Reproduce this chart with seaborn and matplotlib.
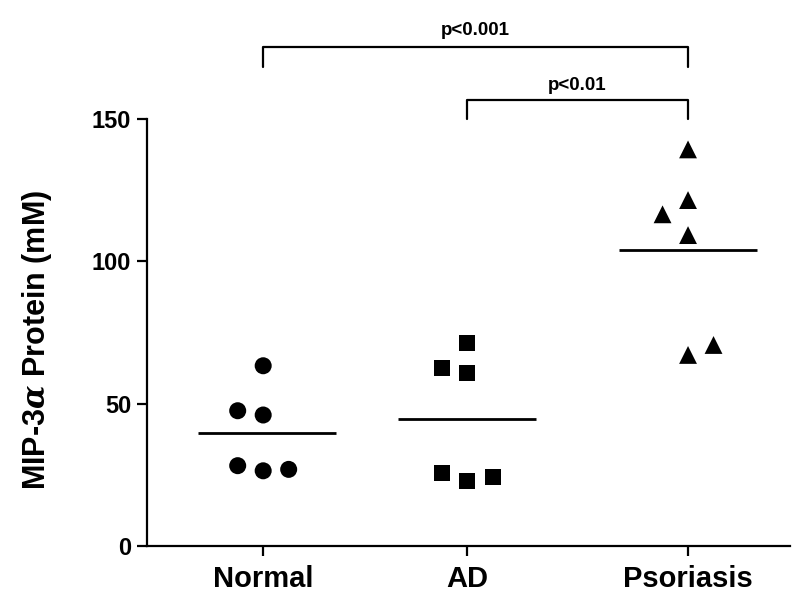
import numpy as np
import pandas as pd
import matplotlib
matplotlib.use("Agg")
import matplotlib.pyplot as plt
import seaborn as sns

# values
groups = ["Normal", "AD", "Psoriasis"]
normal = [63.3, 47.5, 46.0, 28.2, 26.4, 26.9]
ad = [71.2, 62.4, 60.9, 25.5, 22.9, 24.1]
psoriasis = [139.3, 121.5, 116.5, 109.2, 70.6, 67.1]

# horizontal scatter offsets (graphpad style) and group centres
offsets = {"Normal": [0, -1, 0, -1, 0, 1],
           "AD": [0, -1, 0, -1, 0, 1],
           "Psoriasis": [0, 0, -1, 0, 1, 0]}
centres = {"Normal": 0.0, "AD": 0.96, "Psoriasis": 2.0}
step = 0.12

rows = []
for g, vals in zip(groups, [normal, ad, psoriasis]):
    for v, o in zip(vals, offsets[g]):
        rows.append({"group": g, "value": v, "x": centres[g] + o * step})
df = pd.DataFrame(rows)

sns.set_style("ticks")
plt.rcParams["font.family"] = ["Liberation Sans", "DejaVu Sans"]
plt.rcParams["font.weight"] = "bold"
plt.rcParams["text.color"] = "black"
plt.rcParams["axes.labelcolor"] = "black"
plt.rcParams["xtick.color"] = "black"
plt.rcParams["ytick.color"] = "black"
plt.rcParams["axes.edgecolor"] = "black"
plt.rcParams["mathtext.fontset"] = "custom"
plt.rcParams["mathtext.it"] = "DejaVu Serif:italic"

fig = plt.figure(figsize=(8, 6.1), dpi=100)
ax = fig.add_axes([0.184, 0.105, 0.8035, 0.70])

sns.scatterplot(data=df, x="x", y="value", style="group", size="group",
                markers={"Normal": "o", "AD": "s", "Psoriasis": "^"},
                sizes={"Normal": 150, "AD": 135, "Psoriasis": 165},
                color="black", edgecolor="black", linewidth=0,
                legend=False, ax=ax, clip_on=False, zorder=3)

for g, vals in zip(groups, [normal, ad, psoriasis]):
    c = centres[g] + (0.02 if g == "Normal" else 0)
    ax.hlines(np.mean(vals), c - 0.325, c + 0.325, color="black", lw=2)

ax.set_xlim(-0.546, 2.48)
ax.set_ylim(0, 150)
ax.set_yticks([0, 50, 100, 150])
ax.set_xticks([centres[g] for g in groups])
ax.set_xticklabels(groups, fontsize=21, fontweight="bold")
ax.tick_params(axis="y", labelsize=17, width=1.6, length=7.5, pad=4)
ax.tick_params(axis="x", width=1.6, length=7.5, pad=6)
for lab in ax.get_yticklabels():
    lab.set_fontweight("bold")
ax.set_xlabel("")
ax.set_ylabel(r"MIP-3$\alpha$ Protein (mM)", fontsize=22, fontweight="bold")
ax.yaxis.set_label_coords(-0.145, 0.482)
sns.despine(ax=ax)
for sp in ["left", "bottom"]:
    ax.spines[sp].set_linewidth(1.6)

# significance brackets
def bracket(x1, x2, y, drop, text, ty):
    ax.plot([x1, x1, x2, x2], [y - drop, y, y, y - drop], color="black",
            lw=1.6, clip_on=False)
    ax.text((x1 + x2) / 2, ty, text, ha="center", va="center",
            fontsize=13.5, fontweight="bold", clip_on=False)

bracket(centres["Normal"], centres["Psoriasis"], 175.4, 7.2, "p<0.001", 181.0)
bracket(centres["AD"], centres["Psoriasis"], 156.7, 6.7, "p<0.01", 161.8)

fig.savefig("out.png", dpi=100, facecolor="white")
